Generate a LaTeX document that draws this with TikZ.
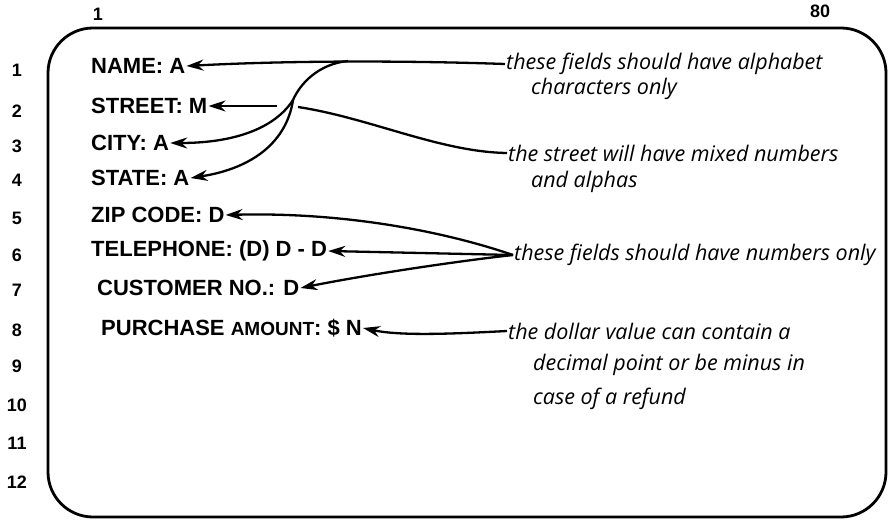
\documentclass[tikz,border=0pt]{standalone}
\usepackage{fontspec}
\setmainfont{Liberation Sans}
\newfontfamily\handfont{Open Sans}
\usetikzlibrary{arrows.meta}

\tikzset{
  field/.style={anchor=west, inner sep=1pt, font=\fontsize{22}{22}\selectfont\bfseries},
  remark/.style={anchor=west, inner sep=1pt, font=\handfont\itshape\fontsize{21.5}{22}\selectfont},
  rownum/.style={inner sep=1pt, font=\fontsize{18}{18}\selectfont\bfseries},
  lead/.style={line width=2.3pt},
  pointer/.style={line width=2.3pt, -{Stealth[length=17pt,width=11pt]}},
}

\begin{document}
\begin{tikzpicture}[x=1pt, y=-1pt]

\useasboundingbox (0,0) rectangle (890,521);
\draw[line width=2.8pt, rounded corners=45pt] (48,28) rectangle (886,517);

% card columns and lines
\node[rownum] (colfirst) at (98,14) {1};
\node[rownum] (collast) at (820,11) {80};
\foreach \n/\y in {1/70,2/111,3/146,4/180,5/218,6/255,7/290,8/330,9/366,10/405,11/443,12/482}
  \node[rownum] (row\n) at (17,\y) {\n};

% the fields
\node[field] (name) at (90,66) {NAME: A};
\node[field] (street) at (90,106) {STREET: M};
\node[field] (city) at (90,143) {CITY: A};
\node[field] (state) at (90,178) {STATE: A};
\node[field] (zip) at (90,215) {ZIP CODE: D};
\node[field] (phone) at (90,251) {TELEPHONE: (D) D - D};
\node[field] (cust) at (96,288) {CUSTOMER NO.: D};
\node[field] (amount) at (100,328) {PURCHASE {\fontsize{19}{19}\selectfont AMOUNT}: \$ N};

% notes
\node[remark] (alphanote) at (505,64) {these fields should have alphabet};
\node[remark] (alphamore) at (530,89) {characters only};
\node[remark] (streetnote) at (507,153) {the street will have mixed numbers};
\node[remark] (streetmore) at (530,182) {and alphas};
\node[remark] (digitnote) at (513,255) {these fields should have numbers only};
\node[remark] (dollarnote) at (507,331) {the dollar value can contain a};
\node[remark] (dollarmore) at (532,365) {decimal point or be minus in};
\node[remark] (dollarlast) at (532,399) {case of a refund};

% alphabetic fields
\coordinate (split) at (348,61);
\coordinate (fork) at (293,100);
\draw[pointer] (alphanote.west) .. controls (420,61) and (300,60) .. (name.east);
\draw[lead] (split) .. controls (318,64) and (300,84) .. (fork);
\draw[pointer] (fork) .. controls (275,128) and (235,143) .. (city.east);
\draw[pointer] (fork) .. controls (287,140) and (255,168) .. (state.east);

% street crosses under the fork
\coordinate (gapright) at (298,107);
\coordinate (gapleft) at (277,106);
\draw[lead] (streetnote.west) .. controls (440,152) and (370,118) .. (gapright);
\draw[pointer] (gapleft) -- (street.east);

% numeric fields
\draw[pointer] (digitnote.west) .. controls (440,230) and (340,212) .. (zip.east);
\draw[pointer] (digitnote.west) -- (phone.east);
\draw[pointer] (digitnote.west) .. controls (450,262) and (360,276) .. (cust.east);

% amount
\draw[pointer] (dollarnote.west) .. controls (450,334) and (400,336) .. (amount.east);

\end{tikzpicture}
\end{document}
